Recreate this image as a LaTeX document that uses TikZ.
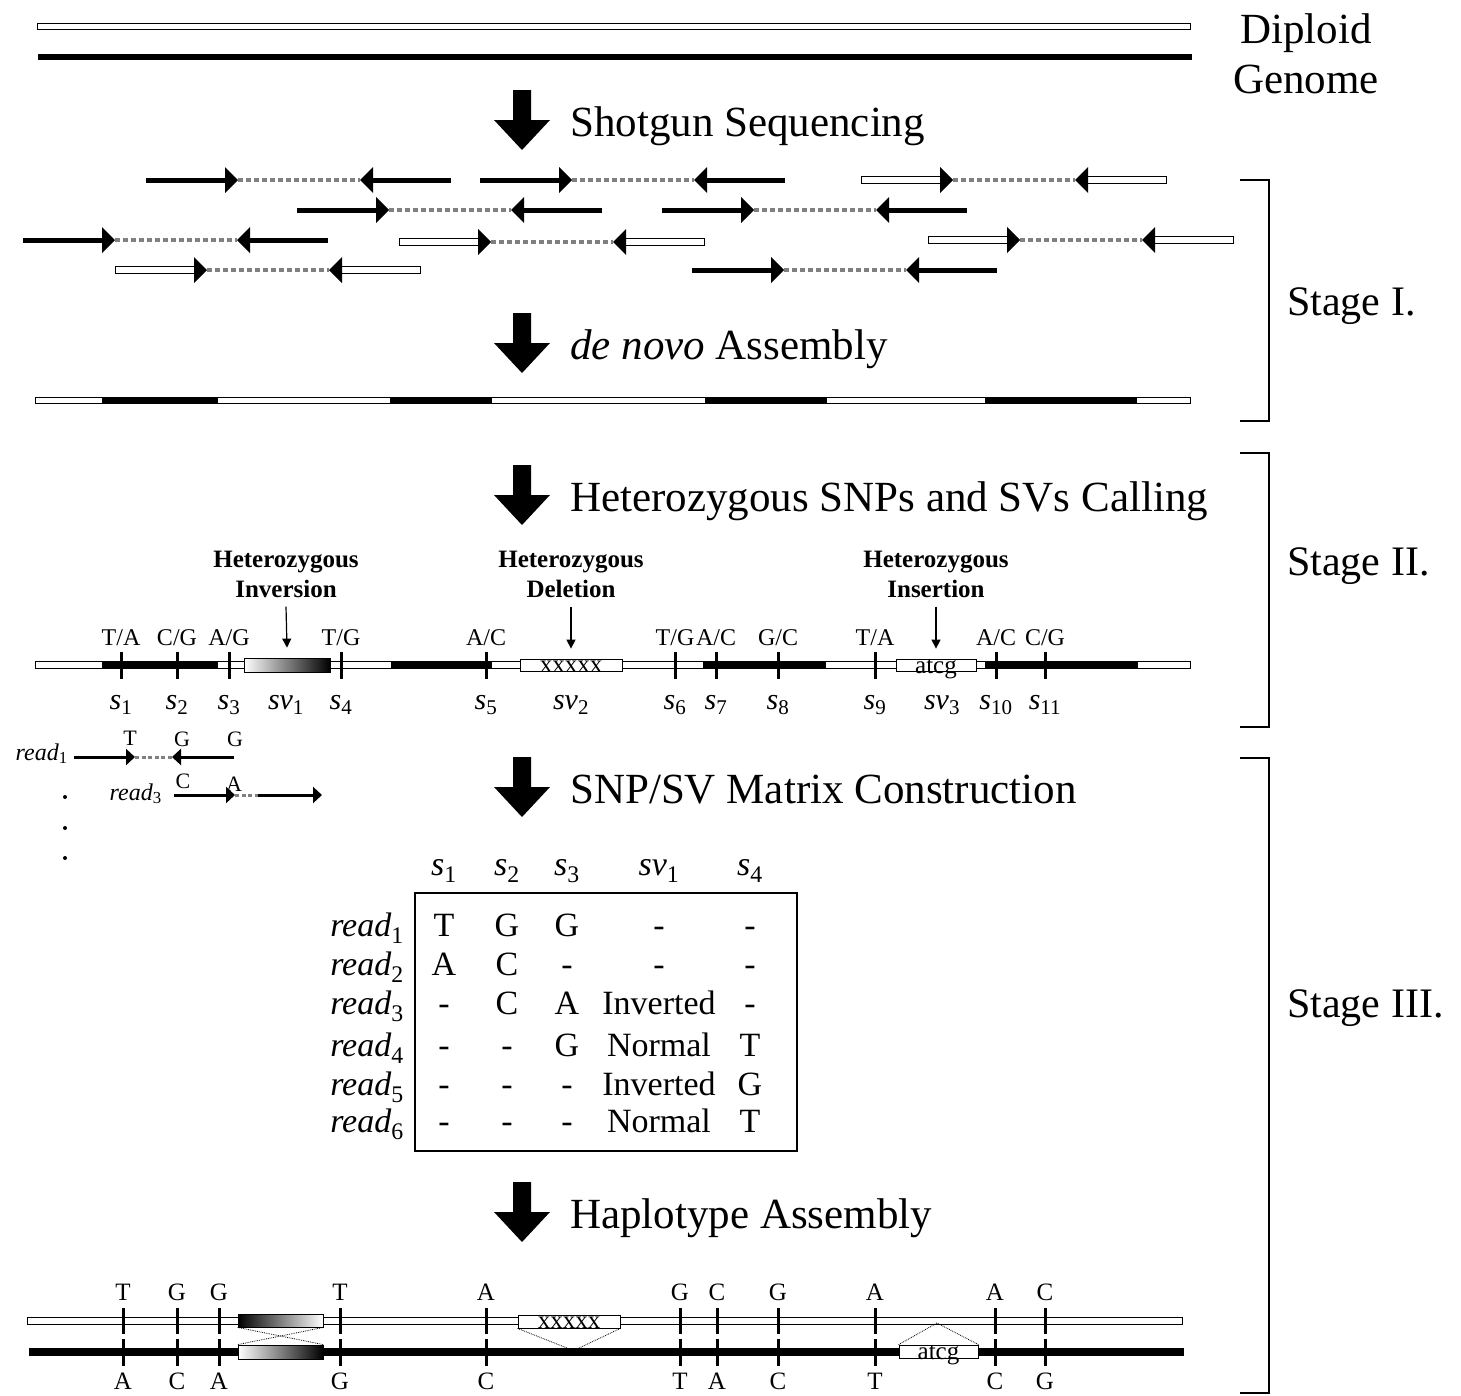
\documentclass[tikz,border=0pt]{standalone}
\usepackage{fontspec}
\setmainfont{Liberation Serif}
\usetikzlibrary{positioning,arrows.meta}

\newcommand{\lbl}[2]{\textit{#1}\textsubscript{#2}}
% one paired-end read: segment, gap, segment
\newcommand{\readpair}[4]{%
  \draw[gapline] (#3+92,#4) -- (#3+214,#4);
  \path[#1] (#3,#4-#2) rectangle (#3+84,#4+#2);
  \path[#1] (#3+222,#4-#2) rectangle (#3+305,#4+#2);
  \fill (#3+92,#4) -- (#3+79,#4-13) -- (#3+79,#4+13) -- cycle;
  \fill (#3+214,#4) -- (#3+227,#4-13) -- (#3+227,#4+13) -- cycle;
}
\newcommand{\blackread}[2]{\readpair{blackseg}{2.5}{#1}{#2}}
\newcommand{\whiteread}[2]{\readpair{whiteseg}{3.5}{#1}{#2}}

\tikzset{
  steptext/.style={anchor=base west, inner sep=0pt, font=\fontsize{43}{50}\selectfont},
  sidetext/.style={anchor=base, inner sep=0pt, font=\fontsize{43}{50}\selectfont},
  stagetext/.style={anchor=base west, inner sep=0pt, font=\fontsize{42}{50}\selectfont},
  whitebar/.style={draw=black, fill=white, line width=0.9pt},
  blackseg/.style={fill=black},
  whiteseg/.style={draw=black, fill=white, line width=1pt},
  gapline/.style={draw=gray, line width=3.5pt, dash pattern=on 5pt off 3pt},
  smallgap/.style={draw=gray, line width=3pt, dash pattern=on 4pt off 2.5pt},
  smallread/.style={line width=3pt, -{Triangle[length=9pt, width=16pt]}},
  snptick/.style={line width=3pt},
  allele/.style={anchor=base, inner sep=0pt, font=\fontsize{24}{28}\selectfont},
  hapletter/.style={anchor=base, inner sep=0pt, font=\fontsize{25}{28}\selectfont},
  readletter/.style={anchor=base, inner sep=0pt, font=\fontsize{22}{26}\selectfont},
  readname/.style={anchor=base east, inner sep=0pt, font=\fontsize{24}{28}\selectfont},
  site/.style={anchor=base, inner sep=0pt, font=\fontsize{30}{34}\selectfont},
  svtitle/.style={align=center, inner sep=0pt, font=\bfseries\fontsize{25}{30}\selectfont},
  svbox/.style={draw=black, line width=0.8pt, inner sep=0pt},
  seqtext/.style={anchor=base, inner sep=0pt, font=\fontsize{25}{28}\selectfont},
  pointer/.style={line width=1.2pt, -{Triangle[length=9pt, width=9pt]}},
  cell/.style={anchor=base, inner sep=0pt, font=\fontsize{34}{40}\selectfont},
  link/.style={densely dotted, line width=0.8pt},
  stagebracket/.style={line width=1.5pt},
  bigdown/.pic={\fill (-9,0) -- (-9,30) -- (-28,30) -- (0,60) -- (28,30) -- (9,30) -- (9,0) -- cycle;},
}

\begin{document}
\begin{tikzpicture}[x=1pt, y=-1pt]
\useasboundingbox (0,0) rectangle (1461,1395);

%Diploid genome
\path[whitebar] (37,23) rectangle (1190,29);
\fill (38,54) rectangle (1192,60);
\node[sidetext] (diploid) at (1306,43) {Diploid};
\node[sidetext] (genome) at (1306,93) {Genome};

%Steps
\foreach \y/\txt [count=\i] in {90/Shotgun Sequencing, 313/{\textit{de novo} Assembly},
    465/Heterozygous SNPs and SVs Calling, 757/{SNP/SV Matrix Construction}, 1182/Haplotype Assembly} {
  \pic at (522,\y) {bigdown};
  \node[steptext] (step\i) at (570,\y+46) {\txt};
}

%Reads
\blackread{146}{180}
\blackread{480}{180}
\whiteread{861}{180}
\blackread{297}{210}
\blackread{662}{210}
\blackread{23}{240}
\whiteread{399}{242}
\whiteread{928}{240}
\whiteread{115}{270}
\blackread{692}{270}

%Assembled contig
\path[whitebar] (35,397) rectangle (1190,403);
\foreach \a/\b in {102/218, 390/492, 705/827, 985/1137}
  \fill (\a,397) rectangle (\b,403);

%Stages
\draw[stagebracket] (1240,180) -- (1269,180) -- (1269,421) -- (1240,421);
\draw[stagebracket] (1240,453) -- (1269,453) -- (1269,727) -- (1240,727);
\draw[stagebracket] (1240,758) -- (1269,758) -- (1269,1393) -- (1240,1393);
\node[stagetext] (stage1) at (1287,315) {Stage I.};
\node[stagetext] (stage2) at (1287,575) {Stage II.};
\node[stagetext] (stage3) at (1287,1017) {Stage III.};

%Heterozygous sites
\path[whitebar] (35,661.5) rectangle (1190,668.5);
\foreach \a/\b in {102/218, 391/492, 703/826, 985/1138}
  \fill (\a,661) rectangle (\b,669);
\node[svbox, minimum width=86pt, minimum height=14pt, left color=white, right color=black] (invbox) at (287,665) {};
\node[svbox, fill=white, minimum width=102pt, minimum height=12pt] (delbox) at (571,665) {};
\node[seqtext] (delseq) at (571,672) {xxxxx};
\node[svbox, fill=white, minimum width=80pt, minimum height=12pt] (insbox) at (936,665) {};
\node[seqtext] (insseq) at (936,673) {atcg};
\foreach \x/\u/\v/\n in {121/T/A/1, 177/C/G/2, 229/A/G/3, 341/T/G/4, 486/A/C/5, 675/T/G/6,
    716/A/C/7, 778/G/C/8, 875/T/A/9, 996/A/C/10, 1045/C/G/11} {
  \draw[snptick] (\x,652) -- (\x,679);
  \node[allele] (al\n) at (\x,645) {\u/\v};
  \node[site] (s\n) at (\x,709) {\lbl{s}{\n}};
}
\node[site] (sv1) at (286,709) {\lbl{sv}{1}};
\node[site] (sv2) at (571,709) {\lbl{sv}{2}};
\node[site] (sv3) at (942,709) {\lbl{sv}{3}};
\foreach \x/\kind/\svname [count=\n] in {286/Inversion/invbox, 571/Deletion/delbox, 936/Insertion/insbox} {
  \node[svtitle] (svt\n) at (\x,574) {Heterozygous\\\kind};
  \draw[pointer] ([yshift=-9pt]svt\n.south) -- ([yshift=10pt]\svname.north);
}

%Reads over sites
\node[readname] (read1) at (68,760) {\lbl{read}{1}};
\draw[smallgap] (135,757) -- (172,757);
\draw[smallread] (74,757) -- (135,757);
\draw[smallread] (234,757) -- (172,757);
\node[readletter] (r1a) at (130,745) {T};
\node[readletter] (r1b) at (182,746) {G};
\node[readletter] (r1c) at (235,746) {G};
\node[readname] (read3) at (162,800) {\lbl{read}{3}};
\draw[smallgap] (235,795) -- (258,795);
\draw[smallread] (174,795) -- (235,795);
\draw[smallread] (258,795) -- (322,795);
\node[readletter] (r3a) at (183,788) {C};
\node[readletter] (r3b) at (234,791) {A};
\foreach \y in {797, 828, 858}
  \fill (65,\y) circle (2);

%Matrix
\foreach \x/\h/\n [count=\i] in {444/s/1, 507/s/2, 567/s/3, 659/sv/1, 750/s/4}
  \node[cell] (col\i) at (\x,875) {\lbl{\h}{\n}};
\node[draw, line width=1.2pt, inner sep=0pt, minimum width=382pt, minimum height=258pt] (matbox) at (606,1022) {};
\foreach \y/\ca/\cb/\cc/\cd/\ce [count=\rw] in {936/T/G/G/-/-, 975/A/C/-/-/-, 1014/-/C/A/Inverted/-,
    1056/-/-/G/Normal/T, 1095/-/-/-/Inverted/G, 1132/-/-/-/Normal/T} {
  \node[cell, anchor=base east] (row\rw) at (404,\y) {\lbl{read}{\rw}};
  \node[cell] at (444,\y) {\ca};
  \node[cell] at (507,\y) {\cb};
  \node[cell] at (567,\y) {\cc};
  \node[cell] at (659,\y) {\cd};
  \node[cell] at (750,\y) {\ce};
}

%Haplotypes
\path[whitebar] (27,1317) rectangle (1182,1324);
\fill (29,1348) rectangle (1184,1356);
\node[svbox, minimum width=85pt, minimum height=13pt, left color=black, right color=white] (invtop) at (280.5,1320.5) {};
\node[svbox, minimum width=85pt, minimum height=14pt, left color=white, right color=black] (invbot) at (280.5,1352) {};
\draw[link] (invtop.south west) -- (invbot.north east);
\draw[link] (invtop.south east) -- (invbot.north west);
\node[svbox, fill=white, minimum width=102pt, minimum height=13pt] (deltop) at (569,1321.5) {};
\node[seqtext] (deltopseq) at (569,1328) {xxxxx};
\coordinate (dela) at (567,1348);
\coordinate (delb) at (579,1348);
\draw[link] (deltop.south west) -- (dela);
\draw[link] (deltop.south east) -- (delb);
\node[svbox, fill=white, minimum width=79pt, minimum height=13pt] (insbot) at (938.5,1351.5) {};
\node[seqtext] (insbotseq) at (938.5,1359) {atcg};
\coordinate (insapex) at (937,1323);
\draw[link] (insbot.north west) -- (insapex) -- (insbot.north east);
\foreach \x/\u/\v [count=\n] in {123/T/A, 177/G/C, 219/G/A, 340/T/G, 486/A/C, 680/G/T,
    717/C/A, 778/G/C, 875/A/T, 995/A/C, 1045/C/G} {
  \draw[snptick] (\x,1308) -- (\x,1334);
  \draw[snptick] (\x,1339) -- (\x,1366);
  \node[hapletter] (hu\n) at (\x,1300) {\u};
  \node[hapletter] (hl\n) at (\x,1389) {\v};
}
\end{tikzpicture}
\end{document}
